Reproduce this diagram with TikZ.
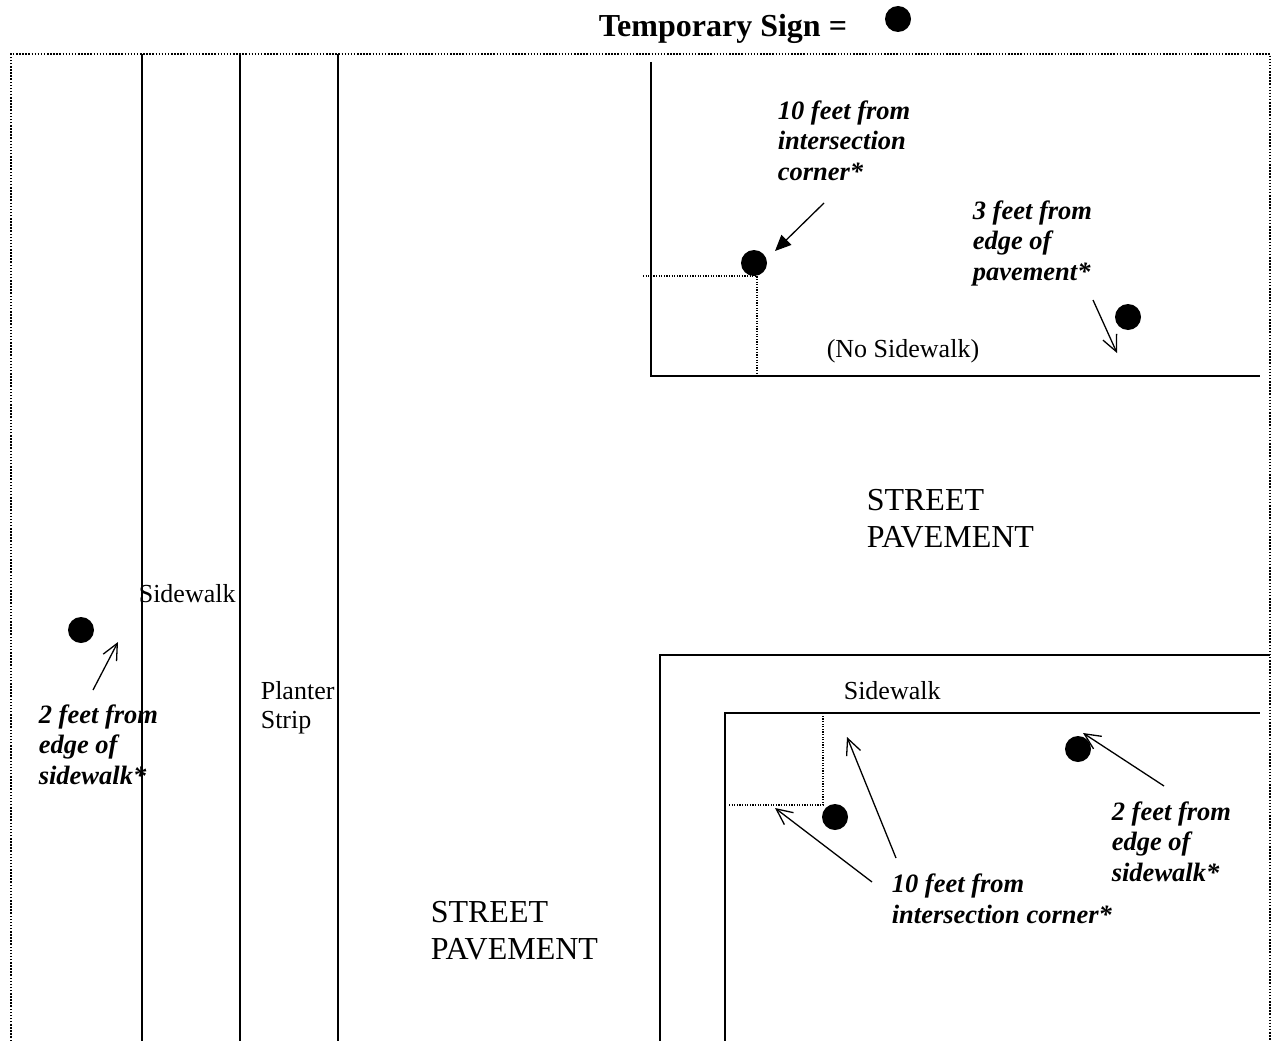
\documentclass[tikz,border=0pt]{standalone}
\usepackage{fontspec}
\setmainfont{Liberation Serif}
\usetikzlibrary{arrows.meta}

\begin{document}
\begin{tikzpicture}[x=1pt, y=-1pt, line width=1.6pt]
    \tikzset{sign/.style={circle, fill, inner sep=0pt, minimum size=26pt}};
    \tikzset{note/.style={font=\fontsize{26.5}{30.5}\selectfont\bfseries\itshape, align=left, anchor=base west, inner sep=0pt}};
    \tikzset{roadtext/.style={font=\fontsize{26}{29}\selectfont, align=left, anchor=base west, inner sep=0pt}};
    \tikzset{streettext/.style={font=\fontsize{32}{37}\selectfont, align=left, anchor=base west, inner sep=0pt}};
    \tikzset{pointer/.style={line width=1.3pt, -{Straight Barb[length=16pt, width=15pt]}}};
    \tikzset{guide/.style={line width=1.2pt, dash pattern=on 1.2pt off 1.4pt}};

    \useasboundingbox (0, 0) rectangle (1277, 1041);

    % Legend
    \node [anchor=base west, inner sep=0pt, font=\fontsize{32}{36}\selectfont\bfseries] (legend) at (598, 37) {Temporary Sign =};
    \node [sign] (s0) at (898, 19) {};

    % Frame
    \draw [line width=1.8pt, dash pattern=on 1.5pt off 1.6pt] (11, 1041) -- (11, 54) -- (1270, 54) -- (1270, 1041);

    % Left street: sidewalk and planter strip
    \foreach \x in {142, 240, 338} { \draw (\x, 54) -- (\x, 1041); }

    % Top right corner (no sidewalk)
    \draw (651, 62) -- (651, 376) -- (1260, 376);
    \draw [guide] (643, 276) -- (757, 276) -- (757, 376);

    % Bottom right corner
    \draw (660, 1041) -- (660, 655) -- (1270, 655);
    \draw (725, 1041) -- (725, 713) -- (1260, 713);
    \draw [guide] (729, 805) -- (823, 805) -- (823, 713);

    % Signs
    \node [sign] (s1) at (754, 263) {};
    \node [sign] (s2) at (1128, 317) {};
    \node [sign] (s3) at (81, 630) {};
    \node [sign] (s4) at (835, 817) {};
    \node [sign] (s5) at (1078, 749) {};

    % Street labels (base = last line)
    \node [roadtext] (nosw) at (826, 357) {(No Sidewalk)};
    \node [roadtext] (swl) at (138, 602) {Sidewalk};
    \node [roadtext] (planter) at (260, 728) {Planter\\Strip};
    \node [roadtext] (swr) at (843, 699) {Sidewalk};
    \node [streettext] (st1) at (866, 547) {STREET\\PAVEMENT};
    \node [streettext] (st2) at (430, 959) {STREET\\PAVEMENT};

    % Notes
    \node [note] (n1) at (777, 180) {10 feet from\\intersection\\corner*};
    \node [note] (n2) at (972, 280) {3 feet from\\edge of\\pavement*};
    \node [note] (n3) at (38, 784) {2 feet from\\edge of\\sidewalk*};
    \node [note] (n4) at (891, 923) {10 feet from\\intersection corner*};
    \node [note] (n5) at (1111, 881) {2 feet from\\edge of\\sidewalk*};

    % Arrow ends
    \path (824, 203) coordinate (t1);  \path (775, 251) coordinate (h1);
    \path (1093, 300) coordinate (t2); \path (1117, 353) coordinate (h2);
    \path (93, 690) coordinate (t3);   \path (118, 642) coordinate (h3);
    \path (872, 882) coordinate (t4);  \path (775, 808) coordinate (h4);
    \path (896, 858) coordinate (t5);  \path (847, 737) coordinate (h5);
    \path (1164, 786) coordinate (t6); \path (1083, 733) coordinate (h6);

    % Arrows
    \draw [pointer, -{Triangle[length=16pt, width=14pt]}] (t1) -- (h1);
    \foreach \i in {2, 3, 4, 5, 6} { \draw [pointer] (t\i) -- (h\i); }
\end{tikzpicture}
\end{document}
